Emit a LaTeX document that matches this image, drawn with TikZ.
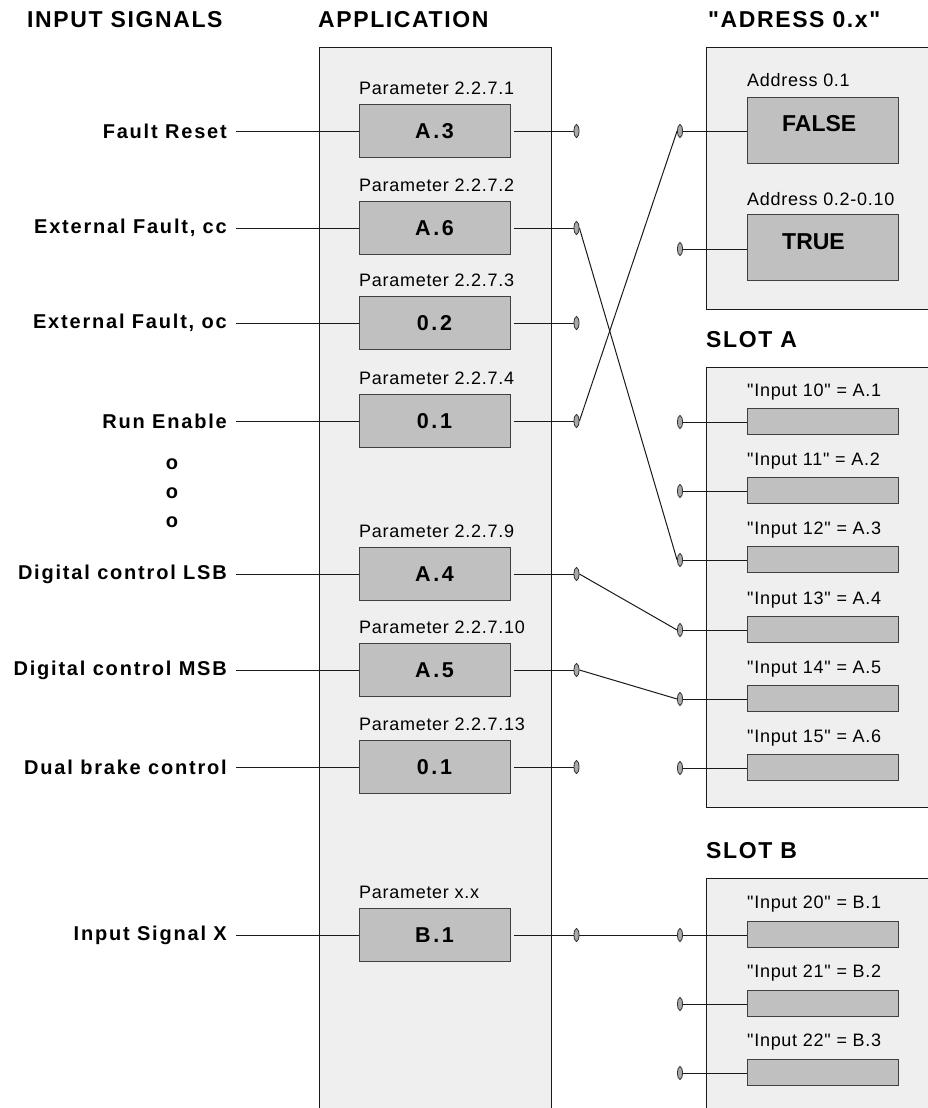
\documentclass[tikz,border=0pt]{standalone}
\usepackage{fontspec}
\setmainfont{Liberation Sans}
\newfontfamily\plainf{Liberation Sans}[LetterSpace=4]
\newfontfamily\boldf{Liberation Sans}[LetterSpace=9]
\newfontfamily\headf{Liberation Sans}[LetterSpace=7]
\newfontfamily\valf{Liberation Sans}[LetterSpace=12]
\usetikzlibrary{shapes.geometric}
\definecolor{panelfill}{HTML}{EFEFEF}
\definecolor{boxfill}{HTML}{C0C0C0}
\definecolor{boxline}{HTML}{404040}
\definecolor{termfill}{HTML}{A8A8A8}
\definecolor{wirecol}{HTML}{1A1A1A}
\begin{document}
\begin{tikzpicture}[x=1pt,y=-1pt,
  panel/.style={draw=wirecol, line width=1pt, fill=panelfill},
  pbox/.style={draw=boxline, fill=boxfill, line width=1pt, inner sep=0,
    minimum width=151pt, minimum height=53pt,
    font=\valf\bfseries\fontsize{21.5}{24}\selectfont},
  rbox/.style={draw=boxline, fill=boxfill, line width=1pt, inner sep=0,
    minimum width=151pt, minimum height=66pt},
  bar/.style={draw=boxline, fill=boxfill, line width=1pt, inner sep=0,
    minimum width=151pt, minimum height=26pt},
  bigval/.style={anchor=west, inner sep=0, font=\bfseries\fontsize{23}{26}\selectfont},
  term/.style={ellipse, draw=black!80, fill=termfill, line width=0.8pt,
    inner sep=0, minimum width=5pt, minimum height=13pt},
  wire/.style={draw=wirecol, line width=1pt},
  small/.style={anchor=west, inner sep=0, font=\plainf\fontsize{18}{20}\selectfont},
  sig/.style={anchor=east, inner sep=0, font=\boldf\bfseries\fontsize{20}{22}\selectfont},
  dots/.style={inner sep=0, font=\bfseries\fontsize{20}{22}\selectfont},
  title/.style={anchor=west, inner sep=0, font=\headf\bfseries\fontsize{23}{25}\selectfont}]

\clip (0,0) rectangle (928,1108);
\fill[white] (0,0) rectangle (928,1108);

% panels (they run past the page edge on the right and bottom)
\draw[panel] (319,48) rectangle (551,1130);
\draw[panel] (706,48) rectangle (940,309);
\draw[panel] (706,367) rectangle (940,807);
\draw[panel] (706,878) rectangle (940,1130);

% column titles
\node[title] (tIn)  at (27,20)   {INPUT SIGNALS};
\node[title] (tApp) at (318,20)  {APPLICATION};
\node[title] (tAdr) at (708,20)  {"ADRESS 0.x"};
\node[title] (tSA)  at (706,340) {SLOT A};
\node[title] (tSB)  at (706,851) {SLOT B};

% input signals and their parameter boxes
\foreach \i/\sg/\pn/\vl/\yy in {
  1/Fault Reset/2.2.7.1/A.3/131,
  2/{External Fault, cc}/2.2.7.2/A.6/228,
  3/{External Fault, oc}/2.2.7.3/0.2/323,
  4/Run Enable/2.2.7.4/0.1/421,
  5/Digital control LSB/2.2.7.9/A.4/574,
  6/Digital control MSB/2.2.7.10/A.5/670,
  7/Dual brake control/2.2.7.13/0.1/767,
  8/Input Signal X/x.x/B.1/935}{
  \node[sig] (s\i) at (227,\yy) {\sg};
  \node[pbox] (b\i) at (434.5,\yy) {\vl};
  \node[small] (p\i) at (359,\yy-43) {Parameter \pn};
  \draw[wire] ([xshift=9pt]s\i.east) -- (b\i.west);
  \draw[wire] ([xshift=3pt]b\i.east) -- (576.5,\yy);
  \node[term] (l\i) at (576.5,\yy) {};
}

% ellipsis between the signal groups
\node[dots] (o1) at (172,464) {o};
\node[dots] (o2) at (172,493) {o};
\node[dots] (o3) at (172,522) {o};

% address block
\node[small] (adr1) at (747,80) {Address 0.1};
\node[rbox] (fbox) at (822.5,130) {};
\node[bigval] (fval) at (782,124) {FALSE};
\draw[wire] (680,131) -- (fbox.west |- 0,131);
\node[term] (rf) at (680,131) {};

\node[small] (adr2) at (747,199) {Address 0.2-0.10};
\node[rbox] (tbox) at (822.5,247.5) {};
\node[bigval] (tval) at (782,242) {TRUE};
\draw[wire] (680,249) -- (tbox.west |- 0,249);
\node[term] (rt) at (680,249) {};

% slot A inputs
\foreach \j/\n/\v/\yy in {1/10/A.1/422, 2/11/A.2/491, 3/12/A.3/560,
                          4/13/A.4/630, 5/14/A.5/699, 6/15/A.6/768}{
  \node[small] (la\j) at (747,\yy-30) {"Input \n" = \v};
  \node[bar] (ba\j) at (822.5,\yy-1) {};
  \draw[wire] (680,\yy) -- (ba\j.west |- 0,\yy);
  \node[term] (ra\j) at (680,\yy) {};
}

% slot B inputs
\foreach \j/\n/\v/\yy in {1/20/B.1/935, 2/21/B.2/1004, 3/22/B.3/1073}{
  \node[small] (lb\j) at (747,\yy-31) {"Input \n" = \v};
  \node[bar] (bb\j) at (822.5,\yy-1) {};
  \draw[wire] (680,\yy) -- (bb\j.west |- 0,\yy);
  \node[term] (rb\j) at (680,\yy) {};
}

% jumpers between application outputs and hardware inputs
\draw[wire] (l2.east) -- (ra3.west);
\draw[wire] (l4.east) -- (rf.west);
\draw[wire] (l5.east) -- (ra4.west);
\draw[wire] (l6.east) -- (ra5.west);
\draw[wire] (l8.east) -- (rb1.west);
\end{tikzpicture}
\end{document}
